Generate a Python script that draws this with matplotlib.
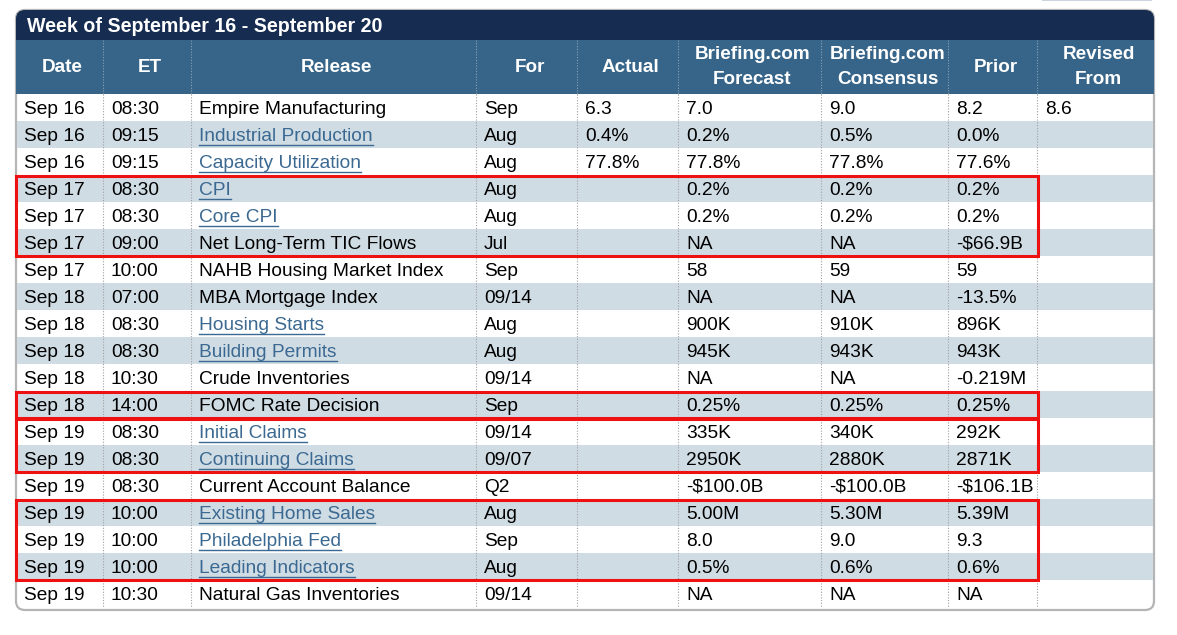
import matplotlib
matplotlib.use("Agg")
import matplotlib.pyplot as plt
from matplotlib.patches import Rectangle, FancyBboxPatch

plt.rcParams['font.family'] = ['Liberation Sans', 'DejaVu Sans']

title = "Week of September 16 - September 20"
headers = ["Date", "ET", "Release", "For", "Actual", "Briefing.com\nForecast",
           "Briefing.com\nConsensus", "Prior", "Revised\nFrom"]

dates = ["Sep 16", "Sep 16", "Sep 16", "Sep 17", "Sep 17", "Sep 17", "Sep 17",
         "Sep 18", "Sep 18", "Sep 18", "Sep 18", "Sep 18", "Sep 19", "Sep 19",
         "Sep 19", "Sep 19", "Sep 19", "Sep 19", "Sep 19"]
times = ["08:30", "09:15", "09:15", "08:30", "08:30", "09:00", "10:00",
         "07:00", "08:30", "08:30", "10:30", "14:00", "08:30", "08:30",
         "08:30", "10:00", "10:00", "10:00", "10:30"]
releases = ["Empire Manufacturing", "Industrial Production", "Capacity Utilization",
            "CPI", "Core CPI", "Net Long-Term TIC Flows", "NAHB Housing Market Index",
            "MBA Mortgage Index", "Housing Starts", "Building Permits",
            "Crude Inventories", "FOMC Rate Decision", "Initial Claims",
            "Continuing Claims", "Current Account Balance", "Existing Home Sales",
            "Philadelphia Fed", "Leading Indicators", "Natural Gas Inventories"]
is_link = [False, True, True, True, True, False, False, False, True, True,
           False, False, True, True, False, True, True, True, False]
periods = ["Sep", "Aug", "Aug", "Aug", "Aug", "Jul", "Sep", "09/14", "Aug", "Aug",
           "09/14", "Sep", "09/14", "09/07", "Q2", "Aug", "Sep", "Aug", "09/14"]
actual = ["6.3", "0.4%", "77.8%"] + [""] * 16
forecast = ["7.0", "0.2%", "77.8%", "0.2%", "0.2%", "NA", "58", "NA", "900K", "945K",
            "NA", "0.25%", "335K", "2950K", "-$100.0B", "5.00M", "8.0", "0.5%", "NA"]
consensus = ["9.0", "0.5%", "77.8%", "0.2%", "0.2%", "NA", "59", "NA", "910K", "943K",
             "NA", "0.25%", "340K", "2880K", "-$100.0B", "5.30M", "9.0", "0.6%", "NA"]
prior = ["8.2", "0.0%", "77.6%", "0.2%", "0.2%", "-$66.9B", "59", "-13.5%", "896K",
         "943K", "-0.219M", "0.25%", "292K", "2871K", "-$106.1B", "5.39M", "9.3",
         "0.6%", "NA"]
revised = ["8.6"] + [""] * 18

# highlighted row groups (first row, last row)
highlights = [(3, 5), (11, 11), (12, 13), (15, 17)]

W, H = 1177, 635
fig = plt.figure(figsize=(W / 100, H / 100), dpi=100)
ax = fig.add_axes([0, 0, 1, 1])
ax.set_xlim(0, W)
ax.set_ylim(H, 0)
ax.axis("off")

left, right = 16, 1154
top, title_bot, head_bot = 10, 40, 94
row_h = 27
n = len(dates)
bottom = head_bot + row_h * n
col_edges = [left, 103, 191, 476, 577, 678, 821, 948, 1037, right]

navy = "#172c51"
head_col = "#366589"
stripe = "#d0dce4"
link_col = "#3b6991"

# outer frame with rounded corners
ax.add_patch(FancyBboxPatch((left, top), right - left, bottom + 3 - top,
                            boxstyle="round,pad=0,rounding_size=9",
                            fc="white", ec="#b5b5b5", lw=1.6, zorder=1))
ax.add_patch(FancyBboxPatch((left, top), right - left, 40,
                            boxstyle="round,pad=0,rounding_size=9",
                            fc=navy, ec="none", zorder=2))
ax.add_patch(Rectangle((left, title_bot), right - left, head_bot - title_bot,
                       fc=head_col, ec="none", zorder=3))
ax.text(27, 26, title, color="white", fontsize=14.1, fontweight="bold",
        va="center", ha="left", zorder=5)

# small element at top right of the page
ax.add_patch(Rectangle((1042, -2), 110, 3, fc="#c9d5e0", ec="none", zorder=1))

# stripes
for i in range(n):
    if i % 2 == 1:
        ax.add_patch(Rectangle((left + 0.8, head_bot + i * row_h), right - left - 1.6,
                               row_h, fc=stripe, ec="none", zorder=2))

# dotted column separators
for x in col_edges[1:-1]:
    ax.plot([x, x], [title_bot, head_bot], color="#8aa3b8", lw=0.8,
            ls=(0, (1, 1.5)), zorder=4)
    ax.plot([x, x], [head_bot, bottom], color="#a0a0a0", lw=0.8,
            ls=(0, (1, 1.5)), zorder=4)

# headers
for j, h in enumerate(headers):
    cx = (col_edges[j] + col_edges[j + 1]) / 2 + 3
    ax.text(cx, 67, h, color="white", fontsize=13.6, fontweight="bold",
            ha="center", va="center", linespacing=1.6, zorder=5)

# body
cols = [dates, times, releases, periods, actual, forecast, consensus, prior, revised]
link_texts = []
for i in range(n):
    cy = head_bot + i * row_h + row_h / 2 + 1.8
    for j, col in enumerate(cols):
        val = col[i]
        if not val:
            continue
        x0 = col_edges[j] + 8
        if j == 2 and is_link[i]:
            t = ax.text(x0, cy, val, color=link_col, fontsize=13.8,
                        ha="left", va="center", zorder=5)
            link_texts.append(t)
        else:
            ax.text(x0, cy, val, color="black", fontsize=13.8,
                    ha="left", va="center", zorder=5)

# underline links
fig.canvas.draw()
renderer = fig.canvas.get_renderer()
inv = ax.transData.inverted()
for t in link_texts:
    bb = t.get_window_extent(renderer)
    (xa, ya), (xb, yb) = inv.transform([(bb.x0, bb.y0), (bb.x1, bb.y1)])
    yl = t.get_position()[1] + 9.0
    ax.plot([xa, xb], [yl, yl], color=link_col, lw=1.0, zorder=5)

# red highlight boxes
for r0, r1 in highlights:
    y0 = head_bot + r0 * row_h
    y1 = head_bot + (r1 + 1) * row_h
    ax.add_patch(Rectangle((left - 0.5, y0 + 0.5), 1038 - left, y1 - y0 - 1,
                           fc="none", ec="#ee1111", lw=2.2, zorder=6))

fig.savefig("out.png", dpi=100, facecolor="white")
